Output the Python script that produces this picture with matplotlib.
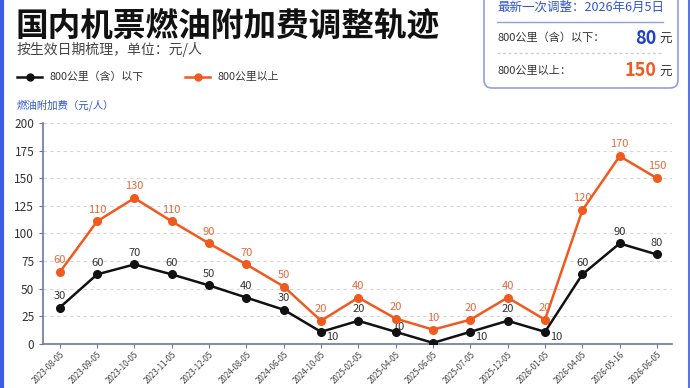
import matplotlib
matplotlib.use("Agg")
import matplotlib.pyplot as plt
from matplotlib.lines import Line2D
from matplotlib.patches import FancyBboxPatch

plt.rcParams['font.family'] = ['Noto Sans CJK SC', 'DejaVu Sans']

dates = ['2023-08-05', '2023-09-05', '2023-10-05', '2023-11-05', '2023-12-05',
         '2024-08-05', '2024-06-05', '2024-10-05', '2025-02-05', '2025-04-05',
         '2025-06-05', '2025-07-05', '2025-12-05', '2026-01-05', '2026-04-05',
         '2026-05-16', '2026-06-05']
# plotted positions
low_vals = [33, 63, 72, 63, 53, 42, 31, 11, 21, 11, 1, 11, 21, 11, 63, 91, 81]
high_vals = [65, 111, 132, 111, 91, 72, 52, 21, 42, 23, 13, 22, 42, 22, 121, 170, 150]
# printed labels
low_labels = ['30', '60', '70', '60', '50', '40', '30', '10', '20', '10', '', '10',
              '20', '10', '60', '90', '80']
high_labels = ['60', '110', '130', '110', '90', '70', '50', '20', '40', '20', '10', '20',
               '40', '20', '120', '170', '150']
yticks = [0, 25, 50, 75, 100, 125, 150, 175, 200]

BLACK = '#111111'
ORANGE = '#f05a1e'
BLUE = '#2f55d4'
SPINE = '#6a78a8'

fig = plt.figure(figsize=(6.9, 3.88), dpi=100)
ax = fig.add_axes([0.0628, 0.1134, 0.911, 0.5696])
x = list(range(len(dates)))

ax.plot(x, high_vals, color=ORANGE, lw=1.8, marker='o', ms=5.5, zorder=3)
ax.plot(x, low_vals, color=BLACK, lw=1.8, marker='o', ms=5.5, zorder=4)

for i in x:
    ax.annotate(high_labels[i], (i, high_vals[i]), xytext=(0, 8.5), textcoords='offset points',
                ha='center', va='center', fontsize=8, color='#e8683a', zorder=2)
    lab = low_labels[i]
    if not lab:
        continue
    if lab == '10' and i != 9:
        off = (8, -3.5)
    elif i == 9:
        off = (2, 3.5)
    else:
        off = (0, 8.5)
    ax.annotate(lab, (i, low_vals[i]), xytext=off, textcoords='offset points',
                ha='center', va='center', fontsize=8, color='#333333', zorder=2)

ax.set_xlim(-0.44, 16.4)
ax.set_ylim(0, 200)
ax.set_yticks(yticks)
ax.set_xticks(x)
ax.set_xticklabels(dates, rotation=45, ha='right', rotation_mode='anchor', fontsize=5.8,
                   color='#444444')
ax.tick_params(axis='y', labelsize=8.5, labelcolor='#333333', length=3, color=SPINE)
ax.tick_params(axis='x', length=3, color=SPINE, pad=1.5)
ax.grid(axis='y', linestyle=(0, (3, 3)), color='#d6d6d6', lw=0.8)
ax.set_axisbelow(True)
for s in ['top', 'right']:
    ax.spines[s].set_visible(False)
for s in ['left', 'bottom']:
    ax.spines[s].set_color(SPINE)
    ax.spines[s].set_linewidth(1.2)

tr = fig.dpi_scale_trans
# title and subtitle
fig.text(0.15, 3.62, '国内机票燃油附加费调整轨迹', transform=tr, fontsize=23.5, fontweight='bold',
         color='#111111', va='center', ha='left')
fig.text(0.17, 3.39, '按生效日期梳理，单位：元/人', transform=tr, fontsize=10,
         color='#444444', va='center', ha='left')

# legend
fig.add_artist(Line2D([0.17, 0.42], [3.11, 3.11], transform=tr, color=BLACK, lw=1.8))
fig.add_artist(Line2D([0.295], [3.11], transform=tr, color=BLACK, marker='o', ms=5))
fig.text(0.49, 3.11, '800公里（含）以下', transform=tr, fontsize=7.8, color='#333333', va='center')
fig.add_artist(Line2D([1.85, 2.10], [3.11, 3.11], transform=tr, color=ORANGE, lw=1.8))
fig.add_artist(Line2D([1.975], [3.11], transform=tr, color=ORANGE, marker='o', ms=5))
fig.text(2.17, 3.11, '800公里以上', transform=tr, fontsize=7.8, color='#333333', va='center')

fig.text(0.17, 2.83, '燃油附加费（元/人）', transform=tr, fontsize=7.5, color=BLUE, va='center')

# info box
box = FancyBboxPatch((4.84, 3.00), 1.94, 1.2, boxstyle='round,pad=0,rounding_size=0.08',
                     transform=tr, facecolor='white', edgecolor='#8fa0e2', lw=1.2)
fig.add_artist(box)
fig.text(4.97, 3.81, '最新一次调整：2026年6月5日', transform=tr, fontsize=9, color=BLUE,
         va='center')
fig.add_artist(Line2D([4.97, 6.63], [3.66, 3.66], transform=tr, color='#8fa0e2', lw=1))
fig.text(4.97, 3.50, '800公里（含）以下：', transform=tr, fontsize=8, color='#333333', va='center')
fig.text(6.56, 3.50, '80', transform=tr, fontsize=13, fontweight='bold', color='#1f3fd0',
         va='center', ha='right')
fig.text(6.59, 3.49, '元', transform=tr, fontsize=9, color='#333333', va='center')
fig.add_artist(Line2D([4.97, 6.63], [3.35, 3.35], transform=tr, color='#c8cce0', lw=1,
                      linestyle=(0, (2, 2))))
fig.text(4.97, 3.17, '800公里以上：', transform=tr, fontsize=8, color='#333333', va='center')
fig.text(6.56, 3.17, '150', transform=tr, fontsize=13, fontweight='bold', color=ORANGE,
         va='center', ha='right')
fig.text(6.59, 3.16, '元', transform=tr, fontsize=9, color='#333333', va='center')

# card borders
fig.add_artist(Line2D([0.015, 0.015], [0, 3.88], transform=tr, color='#3d5ee0', lw=3))
fig.add_artist(Line2D([6.885, 6.885], [0, 3.88], transform=tr, color='#5b74e0', lw=1.5))

fig.savefig('out.png', dpi=100)
